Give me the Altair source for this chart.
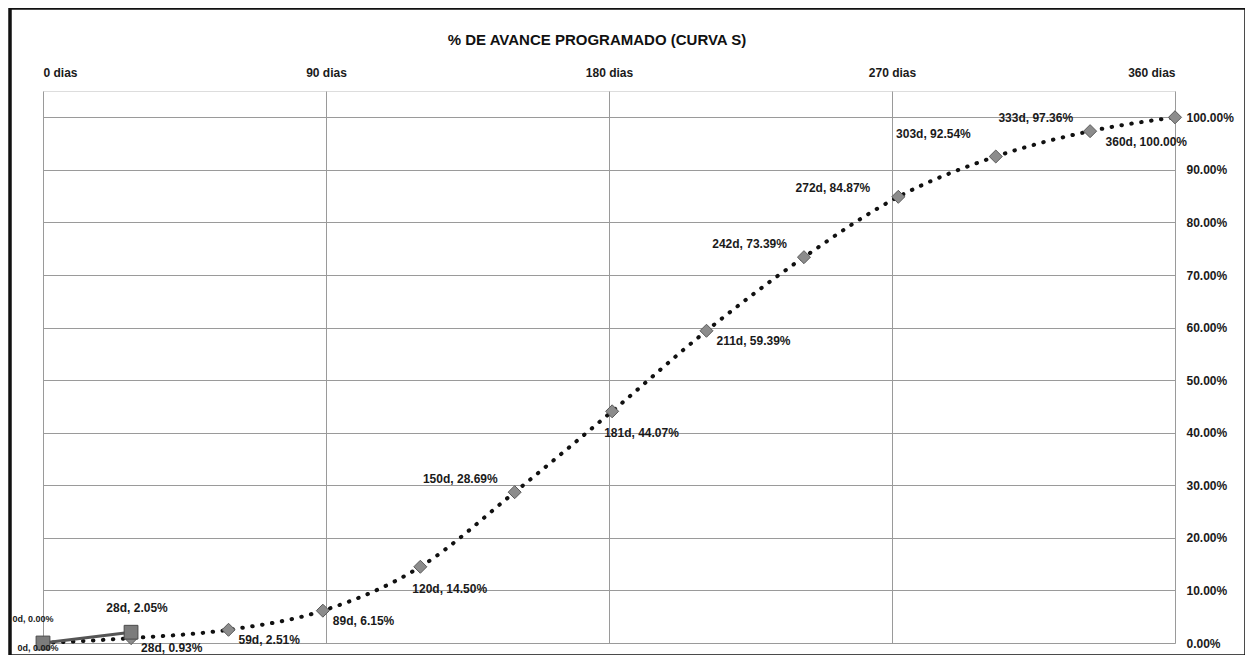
import altair as alt
import pandas as pd

# ---------------- data ----------------
title_text = "% DE AVANCE PROGRAMADO (CURVA S)"
x_ticks = [0, 90, 180, 270, 360]
y_ticks = [0, 10, 20, 30, 40, 50, 60, 70, 80, 90, 100]

days_real = [0, 28]
pct_real = [0.00, 2.05]

days_prog = [0, 28, 59, 89, 120, 150, 181, 211, 242, 272, 303, 333, 360]
pct_prog = [0.00, 0.93, 2.51, 6.15, 14.50, 28.69, 44.07, 59.39, 73.39, 84.87, 92.54, 97.36, 100.00]

# label placement keywords (styling resolved further below)
place_real = ["zero_above", "above"]
place_prog = ["zero_below", "right", "right", "right", "below", "above_left", "below",
              "right", "above_left", "above_left_far", "above_left_high", "above_left", "below_left"]


def make_df(days, pct, place):
    df = pd.DataFrame({"day": days, "pct": pct, "place": place})
    df["label"] = [f"{d}d, {p:.2f}%" for d, p in zip(days, pct)]
    return df


df_real = make_df(days_real, pct_real, place_real)
df_prog = make_df(days_prog, pct_prog, place_prog)

# ---------------- styling ----------------
FONT = "Liberation Sans"
W, H = 1132, 552
x_scale = alt.Scale(domain=[0, 360], nice=False, zero=False)
y_scale = alt.Scale(domain=[0, 105], nice=False)

placements = {
    "right": dict(align="left", dx=10, dy=10, fontSize=12),
    "below": dict(align="left", dx=-8, dy=22, fontSize=12),
    "below_left": dict(align="right", dx=12, dy=25, fontSize=12),
    "above_left": dict(align="right", dx=-17, dy=-13, fontSize=12),
    "above_left_far": dict(align="right", dx=-28, dy=-9, fontSize=12),
    "above_left_high": dict(align="right", dx=-25, dy=-23, fontSize=12),
    "above": dict(align="center", dx=6, dy=-24, fontSize=12),
    "zero_above": dict(align="center", dx=-10, dy=-24, fontSize=9),
    "zero_below": dict(align="center", dx=-5, dy=5, fontSize=9),
}

label_style = dict(labelFont=FONT, labelFontSize=12, labelFontWeight="bold",
                   labelColor="#1a1a1a", domain=False, ticks=False,
                   gridColor="#9a9a9a", gridWidth=1, title=None, grid=True)

X = alt.X("day:Q", scale=x_scale,
          axis=alt.Axis(orient="top", values=x_ticks, labelExpr="datum.value + ' dias'",
                        labelPadding=12, labelAngle=0, **label_style))
Y = alt.Y("pct:Q", scale=y_scale,
          axis=alt.Axis(orient="right", values=y_ticks,
                        labelExpr="format(datum.value, '.2f') + '%'",
                        labelPadding=11, **label_style))

frame = alt.Chart(pd.DataFrame({"k": [0]})).mark_rect(
    fillOpacity=0, stroke="#111", strokeWidth=3.5
).encode(
    x=alt.value(-33), x2=alt.value(1203), y=alt.value(-83), y2=alt.value(565)
)

title = alt.Chart(pd.DataFrame({"t": [title_text]})).mark_text(
    font=FONT, fontSize=15, fontWeight="bold", color="#111", align="center", baseline="middle"
).encode(x=alt.value(554), y=alt.value(-51), text="t:N")

line_prog = alt.Chart(df_prog).mark_line(
    color="#111", strokeWidth=4, strokeDash=[0.5, 9.5], strokeCap="round",
    interpolate="monotone"
).encode(x=X, y=Y)

line_real = alt.Chart(df_real).mark_line(color="#555", strokeWidth=3).encode(x=X, y=Y)

diamonds = alt.Chart(df_prog).mark_point(
    shape="diamond", filled=True, size=170, fill="#8c8c8c", stroke="#5a5a5a",
    strokeWidth=1, opacity=1
).encode(x=X, y=Y)

squares = alt.Chart(df_real).mark_point(
    shape="square", filled=True, size=190, fill="#7c7c7c", stroke="#4a4a4a",
    strokeWidth=1, opacity=1
).encode(x=X, y=Y)

text_layers = []
for df in (df_prog, df_real):
    for key, st in placements.items():
        sub = df[df["place"] == key]
        if len(sub) == 0:
            continue
        text_layers.append(
            alt.Chart(sub).mark_text(
                font=FONT, fontWeight="bold", color="#1a1a1a", baseline="middle",
                align=st["align"], dx=st["dx"], dy=st["dy"], fontSize=st["fontSize"]
            ).encode(x=X, y=Y, text="label:N")
        )

chart = alt.layer(frame, title, line_prog, line_real, diamonds, squares, *text_layers).properties(
    width=W, height=H,
    autosize=alt.AutoSizeParams(type="none"),
    padding={"left": 35, "top": 83, "right": 70, "bottom": 12},
).configure_view(
    stroke="#999", strokeWidth=1
).configure(background="white")

chart.save("out.html", embed_options={"renderer": "svg", "actions": False})
